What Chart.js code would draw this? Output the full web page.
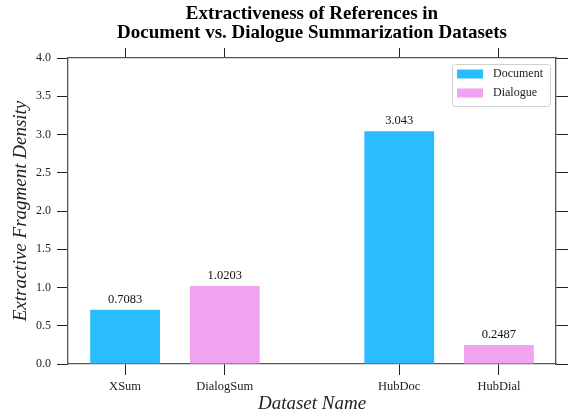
<!DOCTYPE html>
<html>
<head>
<meta charset="utf-8">
<script src="https://cdn.jsdelivr.net/npm/chart.js@4.4.0/dist/chart.umd.min.js"></script>
<style>
body { margin: 0; background: #fff; }
</style>
</head>
<body>
<canvas id="chart" width="572" height="414"></canvas>
<script>
// data
const categories = ['XSum', 'DialogSum', 'HubDoc', 'HubDial'];
const positions = [0, 1, 2.75, 3.75];
const documentPositions = [0, 2.75];
const documentValues = [0.7083, 3.043];
const dialoguePositions = [1, 3.75];
const dialogueValues = [1.0203, 0.2487];
const yMin = 0, yMax = 4.0, yStep = 0.5;

const serif = "'Liberation Serif', 'Times New Roman', serif";
Chart.defaults.font.family = serif;
Chart.defaults.color = '#222';

const toPoints = (xs, ys) => xs.map((x, i) => ({ x: x, y: ys[i] }));
const catTicks = s => { s.ticks = positions.map(v => ({ value: v })); };

// numbers above the bars
const valueLabels = {
    id: 'valueLabels',
    afterDatasetsDraw(chart) {
        const ctx = chart.ctx;
        ctx.save();
        ctx.font = '12.5px ' + serif;
        ctx.fillStyle = '#111';
        ctx.textAlign = 'center';
        ctx.textBaseline = 'bottom';
        chart.data.datasets.forEach((ds, di) => {
            chart.getDatasetMeta(di).data.forEach((bar, i) => {
                ctx.fillText(String(ds.data[i].y), bar.x, bar.y - 4);
            });
        });
        ctx.restore();
    }
};

// boxed legend in the top-right corner of the plot
const boxLegend = {
    id: 'boxLegend',
    afterDraw(chart) {
        const ctx = chart.ctx, a = chart.chartArea;
        const w = 98, h = 42;
        const x = a.right - 6 - w, y = a.top + 6;
        ctx.save();
        ctx.beginPath();
        ctx.roundRect(x + 0.5, y + 0.5, w, h, 3);
        ctx.fillStyle = 'rgba(255,255,255,0.8)';
        ctx.fill();
        ctx.strokeStyle = '#d0d0d0';
        ctx.lineWidth = 1;
        ctx.stroke();
        ctx.font = '12px ' + serif;
        ctx.textBaseline = 'middle';
        chart.data.datasets.forEach((ds, i) => {
            const cy = y + 10 + i * 19;
            ctx.fillStyle = ds.backgroundColor;
            ctx.fillRect(x + 5, cy - 4.5, 26, 9);
            ctx.fillStyle = '#222';
            ctx.fillText(ds.label, x + 41, cy);
        });
        ctx.restore();
    }
};

new Chart(document.getElementById('chart'), {
    type: 'bar',
    data: {
        datasets: [{
            label: 'Document',
            data: toPoints(documentPositions, documentValues),
            backgroundColor: '#2bbcfd'
        }, {
            label: 'Dialogue',
            data: toPoints(dialoguePositions, dialogueValues),
            backgroundColor: '#f1a2f0'
        }]
    },
    options: {
        responsive: false,
        animation: false,
        devicePixelRatio: 1,
        layout: { padding: 0 },
        datasets: {
            bar: { grouped: false, barPercentage: 0.7, categoryPercentage: 1 }
        },
        plugins: {
            legend: { display: false },
            tooltip: { enabled: false },
            title: {
                display: true,
                fullSize: false,
                text: ['Extractiveness of References in', 'Document vs. Dialogue Summarization Datasets'],
                color: '#000',
                font: { size: 19, weight: 'bold', lineHeight: 1.02 },
                padding: { top: 4.5, bottom: 2.5 }
            }
        },
        scales: {
            x: {
                type: 'linear',
                position: 'bottom',
                min: -0.5725,
                max: 4.3225,
                offset: false,
                afterBuildTicks: catTicks,
                afterFit: s => { s.height = 50; },
                ticks: {
                    autoSkip: false,
                    maxRotation: 0,
                    padding: 4.5,
                    font: { size: 12.5 },
                    color: '#222',
                    callback: (v, i) => categories[i]
                },
                grid: { offset: false, drawOnChartArea: false, tickLength: 11, color: '#222', tickWidth: 1 },
                border: { color: '#555', width: 1.3 },
                title: {
                    display: true,
                    text: 'Dataset Name',
                    color: '#222',
                    font: { size: 19, style: 'italic', lineHeight: 1 },
                    padding: { top: 0, bottom: 1 }
                }
            },
            xTop: {
                type: 'linear',
                position: 'top',
                min: -0.5725,
                max: 4.3225,
                offset: false,
                afterBuildTicks: catTicks,
                afterFit: s => { s.height = 58 - 4.5 - 2.5 - 2 * 19 * 1.02; },
                ticks: { display: false },
                grid: { offset: false, drawOnChartArea: false, tickLength: 10, color: '#222', tickWidth: 1 },
                border: { color: '#555', width: 1.3 }
            },
            y: {
                type: 'linear',
                position: 'left',
                min: yMin,
                max: yMax,
                afterFit: s => { s.width = 68; },
                ticks: {
                    stepSize: yStep,
                    padding: 6,
                    font: { size: 12 },
                    color: '#222',
                    callback: v => v.toFixed(1)
                },
                grid: { drawOnChartArea: false, tickLength: 11, color: '#222', tickWidth: 1 },
                border: { color: '#555', width: 1.3 },
                title: {
                    display: true,
                    text: 'Extractive Fragment Density',
                    color: '#222',
                    font: { size: 19, style: 'italic', lineHeight: 1 },
                    padding: { top: 11.5, bottom: 0 }
                }
            },
            yRight: {
                type: 'linear',
                position: 'right',
                min: yMin,
                max: yMax,
                afterFit: s => { s.width = 16; },
                ticks: { display: false, stepSize: yStep },
                grid: { drawOnChartArea: false, tickLength: 12, color: '#222', tickWidth: 1 },
                border: { color: '#555', width: 1.3 }
            }
        }
    },
    plugins: [valueLabels, boxLegend]
});
</script>
</body>
</html>
